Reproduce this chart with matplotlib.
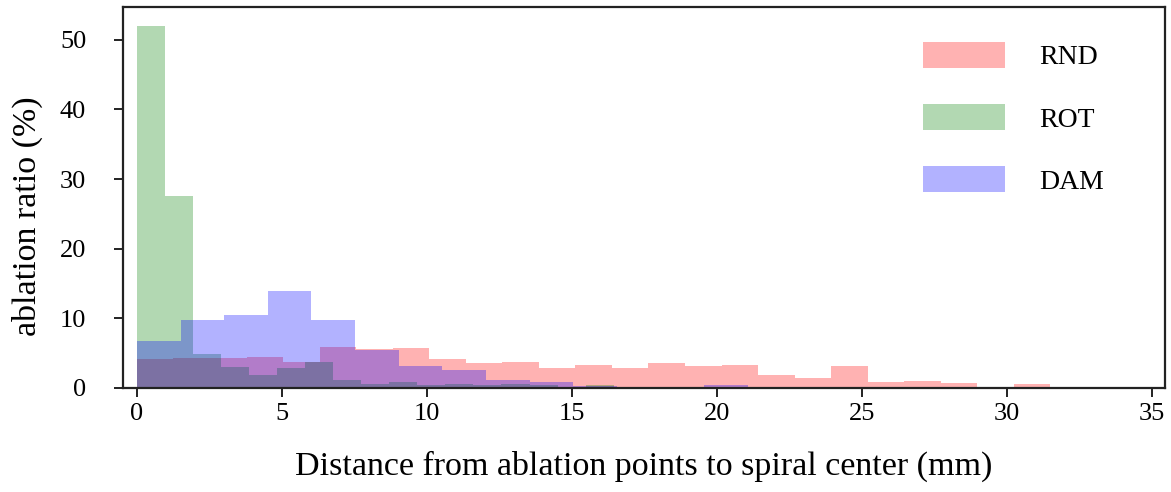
import numpy as np
import matplotlib
matplotlib.use("Agg")
import matplotlib.pyplot as plt

plt.rcParams["font.family"] = "serif"
plt.rcParams["font.serif"] = ["Liberation Serif", "DejaVu Serif"]

# Histogram bin heights (%)
rnd_range = (0.0, 31.5)
rnd_vals = [4.1, 4.3, 4.3, 4.5, 3.8, 5.9, 5.6, 5.8, 4.1, 3.6, 3.8, 2.9, 3.25,
            2.9, 3.6, 3.1, 3.35, 1.8, 1.5, 3.1, 0.9, 1.0, 0.7, 0.0, 0.6]

rot_range = (0.0, 19.34)
rot_vals = [52.0, 27.6, 4.9, 3.0, 1.8, 2.8, 3.8, 1.1, 0.6, 0.8, 0.5, 0.6, 0.4,
            0.6, 0.4, 0.2, 0.4, 0.1, 0.0, 0.2]

dam_range = (0.0, 22.57)
dam_vals = [6.7, 9.8, 10.5, 13.9, 9.8, 5.5, 3.1, 2.6, 1.1, 0.9, 0.3, 0.05,
            0.1, 0.4, 0.15]

series = [("RND", rnd_range, rnd_vals, "red"),
          ("ROT", rot_range, rot_vals, "green"),
          ("DAM", dam_range, dam_vals, "blue")]

fig = plt.figure(figsize=(11.71, 4.92), dpi=100)
ax = fig.add_axes([0.105, 0.2114, 0.8899, 0.7744])

for name, rng, vals, col in series:
    edges = np.linspace(rng[0], rng[1], len(vals) + 1)
    ax.hist(edges[:-1], bins=edges, weights=vals, color=col, alpha=0.3,
            label=name)

ax.set_xlim(-0.48, 35.45)
ax.set_ylim(0, 54.7)
ax.set_xticks(range(0, 36, 5))
ax.set_yticks(range(0, 51, 10))

for s in ax.spines.values():
    s.set_linewidth(1.6)
    s.set_color("#222222")
ax.tick_params(axis="both", direction="out", length=6.5, width=1.4, colors="#222222")
ax.tick_params(axis="x", labelsize=19, pad=4, labelcolor="black")
ax.tick_params(axis="y", labelsize=19, pad=20, labelcolor="black")

ax.set_xlabel("Distance from ablation points to spiral center (mm)", fontsize=24.5)
ax.xaxis.set_label_coords(0.5, -0.165)
ax.set_ylabel("ablation ratio (%)", fontsize=24.5)
ax.yaxis.set_label_coords(-0.077, 0.45)

ax.legend(loc="upper left", bbox_to_anchor=(923 / 1171, 1 - 42 / 492),
          bbox_transform=fig.transFigure, frameon=False, fontsize=20,
          handlelength=2.95, handleheight=1.05, handletextpad=1.25,
          labelspacing=1.22, borderpad=0, borderaxespad=0)

fig.savefig("out.png", dpi=100)
